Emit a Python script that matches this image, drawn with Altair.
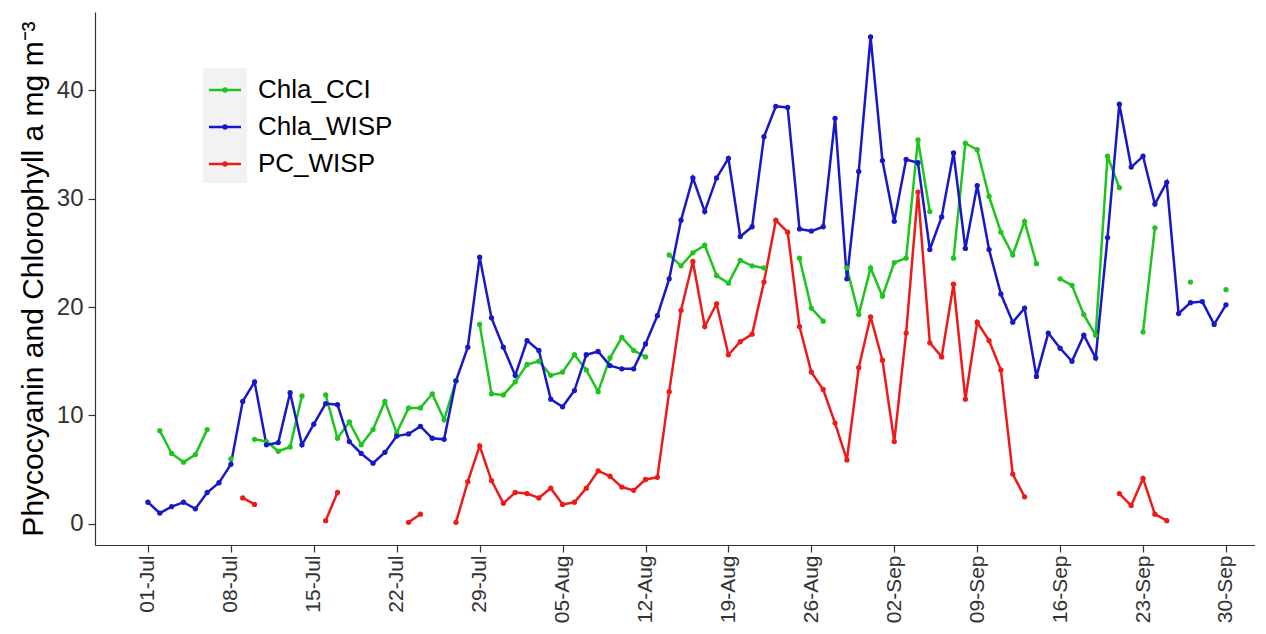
import altair as alt
import pandas as pd

# ---- data ----
days = list(range(92))  # day index, 0 = 01-Jul ... 91 = 30-Sep

chla_cci = [None, 8.6, 6.5, 5.7, 6.4, 8.7, None, 6.0, None, 7.8,
            7.6, 6.7, 7.1, 11.8, None, 11.9, 7.9, 9.4, 7.3, 8.7,
            11.3, 8.4, 10.7, 10.7, 12.0, 9.6, 13.2, None, 18.4, 12.0,
            11.9, 13.1, 14.7, 15.0, 13.7, 14.0, 15.6, 14.2, 12.2, 15.3,
            17.2, 16.0, 15.4, None, 24.8, 23.8, 25.0, 25.7, 22.9, 22.2,
            24.3, 23.8, 23.6, None, None, 24.5, 19.9, 18.7, None, 23.6,
            19.3, 23.6, 21.0, 24.1, 24.5, 35.4, 28.8, None, 24.5, 35.1,
            34.5, 30.2, 26.9, 24.8, 27.9, 24.0, None, 22.6, 22.0, 19.3,
            17.4, 33.9, 31.0, None, 17.7, 27.3, None, None, 22.3, None,
            None, 21.6]

chla_wisp = [2.0, 1.0, 1.6, 2.0, 1.4, 2.9, 3.8, 5.5, 11.3, 13.1,
             7.3, 7.5, 12.1, 7.3, 9.2, 11.1, 11.0, 7.6, 6.5, 5.6,
             6.6, 8.1, 8.3, 9.0, 7.9, 7.8, 13.2, 16.3, 24.6, 19.0,
             16.3, 13.7, 16.9, 16.0, 11.5, 10.8, 12.3, 15.6, 15.9, 14.6,
             14.3, 14.3, 16.6, 19.2, 22.6, 28.0, 31.9, 28.8, 31.9, 33.7,
             26.5, 27.4, 35.7, 38.5, 38.4, 27.2, 27.0, 27.4, 37.4, 22.6,
             32.5, 44.9, 33.5, 27.9, 33.6, 33.3, 25.3, 28.3, 34.2, 25.4,
             31.2, 25.3, 21.2, 18.6, 19.9, 13.6, 17.6, 16.2, 15.0, 17.4,
             15.3, 26.4, 38.7, 32.9, 33.9, 29.5, 31.5, 19.4, 20.4, 20.5,
             18.4, 20.2]

pc_wisp = [None, None, None, None, None, None, None, None, 2.4, 1.8,
           None, None, None, None, None, 0.3, 2.9, None, None, None,
           None, None, 0.15, 0.9, None, None, 0.15, 3.9, 7.2, 4.0,
           1.9, 2.9, 2.8, 2.4, 3.3, 1.8, 2.0, 3.3, 4.9, 4.4,
           3.4, 3.1, 4.1, 4.3, 12.2, 19.7, 24.2, 18.2, 20.3, 15.6,
           16.8, 17.5, 22.3, 28.0, 26.9, 18.2, 14.0, 12.4, 9.3, 5.9,
           14.4, 19.1, 15.1, 7.6, 17.6, 30.6, 16.7, 15.4, 22.1, 11.5,
           18.6, 16.9, 14.2, 4.6, 2.5, None, None, None, None, None,
           None, None, 2.8, 1.7, 4.2, 0.9, 0.3, None, None, None,
           None, None]

series_names = ["Chla_CCI", "Chla_WISP", "PC_WISP"]
series_colors = ["#1FC41F", "#1818C8", "#EE1A1A"]

tick_days = [0, 7, 14, 21, 28, 35, 42, 49, 56, 63, 70, 77, 84, 91]
tick_labels = ["01-Jul", "08-Jul", "15-Jul", "22-Jul", "29-Jul", "05-Aug",
               "12-Aug", "19-Aug", "26-Aug", "02-Sep", "09-Sep", "16-Sep",
               "23-Sep", "30-Sep"]
y_ticks = [0, 10, 20, 30, 40]

# ---- build long table, with a segment id so gaps break the lines ----
rows = []
for name, vals in zip(series_names, [chla_cci, chla_wisp, pc_wisp]):
    seg = 0
    prev_missing = True
    for d, v in zip(days, vals):
        if v is None:
            prev_missing = True
            continue
        if prev_missing:
            seg += 1
        prev_missing = False
        rows.append({"day": d, "value": v, "series": name, "seg": f"{name}_{seg}"})
df = pd.DataFrame(rows)

FONT = "Liberation Sans"
W, H = 1160, 533

label_expr = "[" + ",".join(f"'{t}'" for t in tick_labels) + "][round(datum.value/7)]"

x_enc = alt.X(
    "day:Q",
    scale=alt.Scale(domain=[-4.47, 93.45], nice=False, zero=False),
    axis=alt.Axis(
        values=tick_days, labelExpr=label_expr, title=None, grid=False,
        labelAngle=270, labelAlign="right", labelBaseline="middle",
        labelPadding=3, labelFontSize=21, labelFont=FONT, labelColor="#333333",
        tickSize=7, tickColor="#333333", tickWidth=1.2,
        domainColor="#333333", domainWidth=1.2, labelOverlap=False,
    ),
)
y_enc = alt.Y(
    "value:Q",
    scale=alt.Scale(domain=[-1.94, 47.2], nice=False, zero=False),
    axis=alt.Axis(
        values=y_ticks, grid=False,
        title="Phycocyanin and Chlorophyll a mg m\u207b\u00b3",
        titleFont=FONT, titleFontSize=30, titleFontWeight="normal",
        titleColor="black", titleAngle=270, titleAlign="center",
        titleBaseline="middle", titleX=-62, titleY=H / 2,
        labelFontSize=24, labelFont=FONT, labelColor="#333333", labelPadding=5,
        tickSize=7, tickColor="#333333", tickWidth=1.2,
        domainColor="#333333", domainWidth=1.2,
    ),
)
color_enc = alt.Color(
    "series:N",
    scale=alt.Scale(domain=series_names, range=series_colors),
    legend=None,
)

base = alt.Chart(df)
lines = base.mark_line(strokeWidth=2.5).encode(x=x_enc, y=y_enc, color=color_enc, detail="seg:N")
points = base.mark_circle(size=28, opacity=1).encode(x=x_enc, y=y_enc, color=color_enc)

# ---- legend (drawn inside the panel, top-left) ----
legend_bg = alt.Chart(pd.DataFrame({"k": [0]})).mark_rect(color="#F2F2F2").encode(
    x=alt.value(108), x2=alt.value(152), y=alt.value(56), y2=alt.value(171)
)
legend_layers = [legend_bg]
legend_y = [78, 115, 152]
for name, ly in zip(series_names, legend_y):
    ldf = pd.DataFrame({"series": [name]})
    lc = alt.Chart(ldf)
    legend_layers.append(
        lc.mark_rule(strokeWidth=2.5).encode(
            x=alt.value(114), x2=alt.value(146), y=alt.value(ly), color=color_enc)
    )
    legend_layers.append(
        lc.mark_circle(size=28, opacity=1).encode(
            x=alt.value(130), y=alt.value(ly), color=color_enc)
    )
    legend_layers.append(
        lc.mark_text(align="left", baseline="middle", fontSize=26, font=FONT, color="black").encode(
            x=alt.value(163), y=alt.value(ly), text="series:N")
    )

chart = alt.layer(lines, points, *legend_layers).properties(
    width=W, height=H,
    autosize=alt.AutoSizeParams(type="none"),
    padding={"left": 87, "top": 4, "right": 0, "bottom": 80},
).configure_view(stroke=None)

chart.save("out.html", embed_options={"renderer": "svg", "actions": False})
